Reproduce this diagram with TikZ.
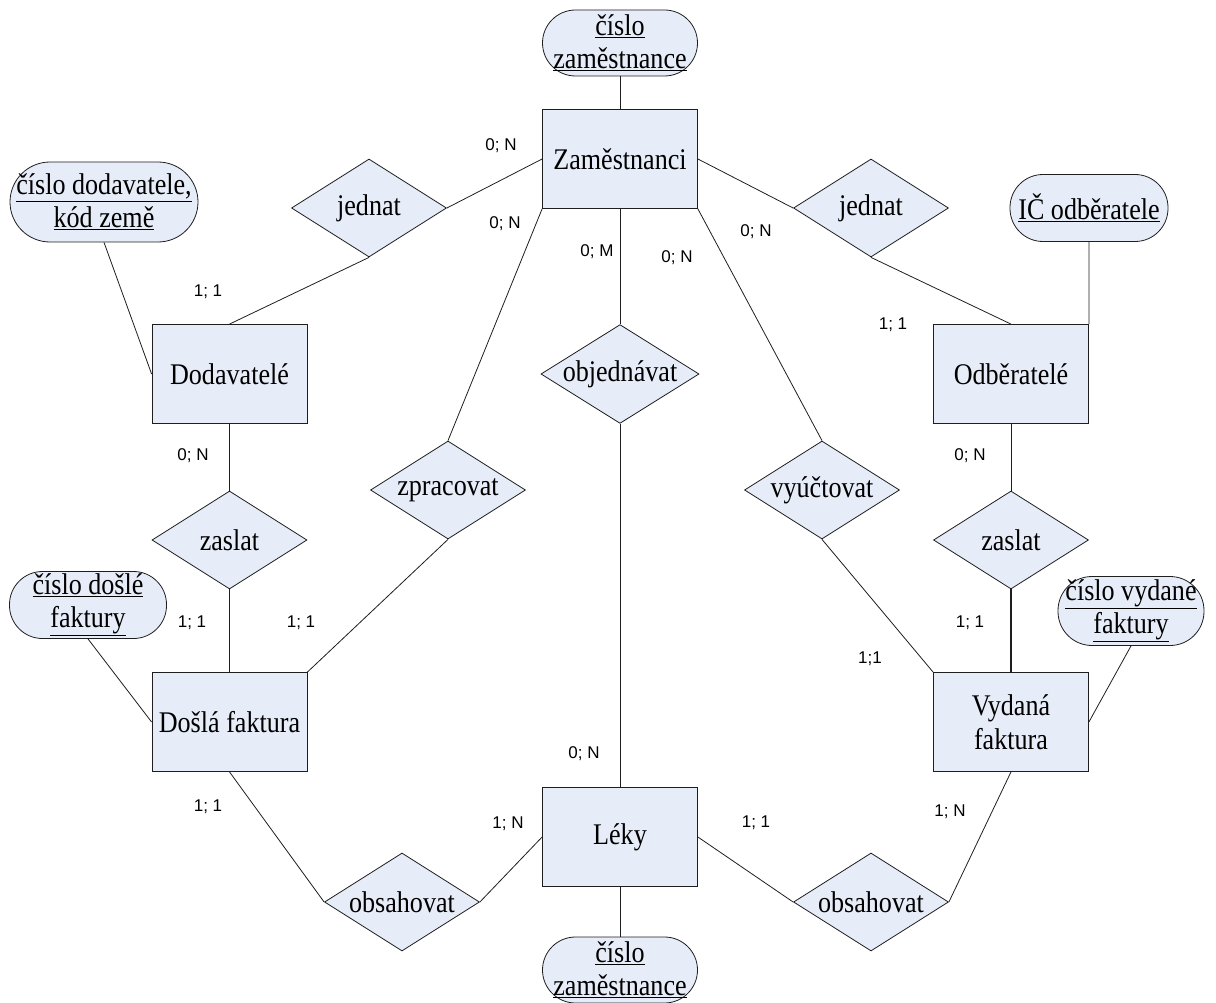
\documentclass[tikz,border=0pt]{standalone}
\usepackage{fontspec}
\setmainfont{Liberation Serif}[FakeStretch=0.87]
\setsansfont{Liberation Sans}
\usepackage{xcolor}
\definecolor{erfill}{RGB}{231, 237, 248}
\definecolor{erline}{RGB}{30, 30, 30}
\usepackage{tikz}
\usetikzlibrary{shapes.geometric}

\begin{document}
\begin{tikzpicture}[
    x=1pt, y=-1pt, line width=0.8pt, draw=erline,
    entity/.style={draw=erline, fill=erfill, rectangle, minimum width=155pt,
      minimum height=99pt, align=center, font=\fontsize{30}{34}\selectfont},
    relation/.style={draw=erline, fill=erfill, diamond, shape aspect=1.6,
      inner sep=0pt, minimum width=155pt, minimum height=98pt,
      font=\fontsize{30}{34}\selectfont},
    attr/.style={draw=erline, fill=erfill, rectangle, inner sep=0pt,
      align=center, font=\fontsize{30}{33}\selectfont},
    card/.style={inner sep=0pt, font=\sffamily\fontsize{17}{20}\selectfont}
  ]
  \useasboundingbox (0,0) rectangle (1216,1003);

  % entities
  \node[entity] (zam)   at (620,159)   {Zaměstnanci};
  \node[entity] (dod)   at (229.5,374) {Dodavatelé};
  \node[entity] (odb)   at (1011,374)  {Odběratelé};
  \node[entity] (dosla) at (229.5,722) {Došlá faktura};
  \node[entity] (vyd)   at (1011,722)  {Vydaná\\faktura};
  \node[entity] (leky)  at (620,837)   {Léky};

  % relations
  \node[relation] (jedL) at (369,208)   {jednat};
  \node[relation] (jedR) at (871,208)   {jednat};
  \node[relation] (obj)  at (620,374)   {objednávat};
  \node[relation] (zpr)  at (448,490)   {zpracovat};
  \node[relation] (vyu)  at (822,490)   {vyúčtovat};
  \node[relation] (zasL) at (229.5,540) {zaslat};
  \node[relation] (zasR) at (1011,540)  {zaslat};
  \node[relation] (obsL) at (402,902)   {obsahovat};
  \node[relation] (obsR) at (871,902)   {obsahovat};

  % attributes
  \node[attr, minimum width=155pt, minimum height=66pt, rounded corners=33pt]
    (zamKey) at (620,43) {\underline{číslo}\\\underline{zaměstnance}};
  \node[attr, minimum width=155pt, minimum height=66pt, rounded corners=33pt]
    (lekKey) at (620,970) {\underline{číslo}\\\underline{zaměstnance}};
  \node[attr, minimum width=188pt, minimum height=80pt, rounded corners=40pt]
    (dodKey) at (104,202) {\underline{číslo dodavatele,}\\\underline{kód země}};
  \node[attr, minimum width=158pt, minimum height=67pt, rounded corners=33pt]
    (odbKey) at (1089,208) {\underline{IČ odběratele}};
  \node[attr, minimum width=157pt, minimum height=67pt, rounded corners=33pt]
    (doslaKey) at (88,605) {\underline{číslo došlé}\\\underline{faktury}};
  \node[attr, minimum width=146pt, minimum height=69pt, rounded corners=34pt]
    (vydKey) at (1131,611) {\underline{číslo vydané}\\\underline{faktury}};

  % cardinalities
  \foreach \x/\y/\t [count=\i] in {
      501/146/{0; N}, 505/224/{0; N}, 597/252/{0; M}, 677/258/{0; N},
      756/232/{0; N}, 208/292/{1; 1}, 893/325/{1; 1}, 193/456/{0; N},
      970/456/{0; N}, 192/623/{1; 1}, 301/623/{1; 1}, 970/623/{1; 1},
      870/659/{1;1}, 584/754/{0; N}, 208/807/{1; 1}, 508/824/{1; N},
      756/823/{1; 1}, 950/812/{1; N}}
    \node[card] (card\i) at (\x,\y) {\t};

  \path[draw=erline]
    (zamKey.south) edge (zam.north)
    (leky.south) edge (lekKey.north)
    (dodKey.south) edge (dod.west)
    (odbKey.south) edge (odb.north east)
    (doslaKey.south) edge (dosla.west)
    (vydKey.south) edge (vyd.east)
    (zam.west) edge (jedL.east)
    (jedL.south) edge (dod.north)
    (zam.east) edge (jedR.west)
    (jedR.south) edge (odb.north)
    (zam.south west) edge (zpr.north)
    (zpr.south) edge (dosla.north east)
    (zam.south) edge (obj.north)
    (obj.south) edge (leky.north)
    (zam.south east) edge (vyu.north)
    (vyu.south) edge (vyd.north west)
    (dod.south) edge (zasL.north)
    (zasL.south) edge (dosla.north)
    (odb.south) edge (zasR.north)
    (dosla.south) edge (obsL.west)
    (obsL.east) edge (leky.west)
    (leky.east) edge (obsR.west)
    (obsR.east) edge (vyd.south)
    ;
  \draw[line width=1.6pt] (zasR.south) -- (vyd.north);
\end{tikzpicture}
\end{document}
